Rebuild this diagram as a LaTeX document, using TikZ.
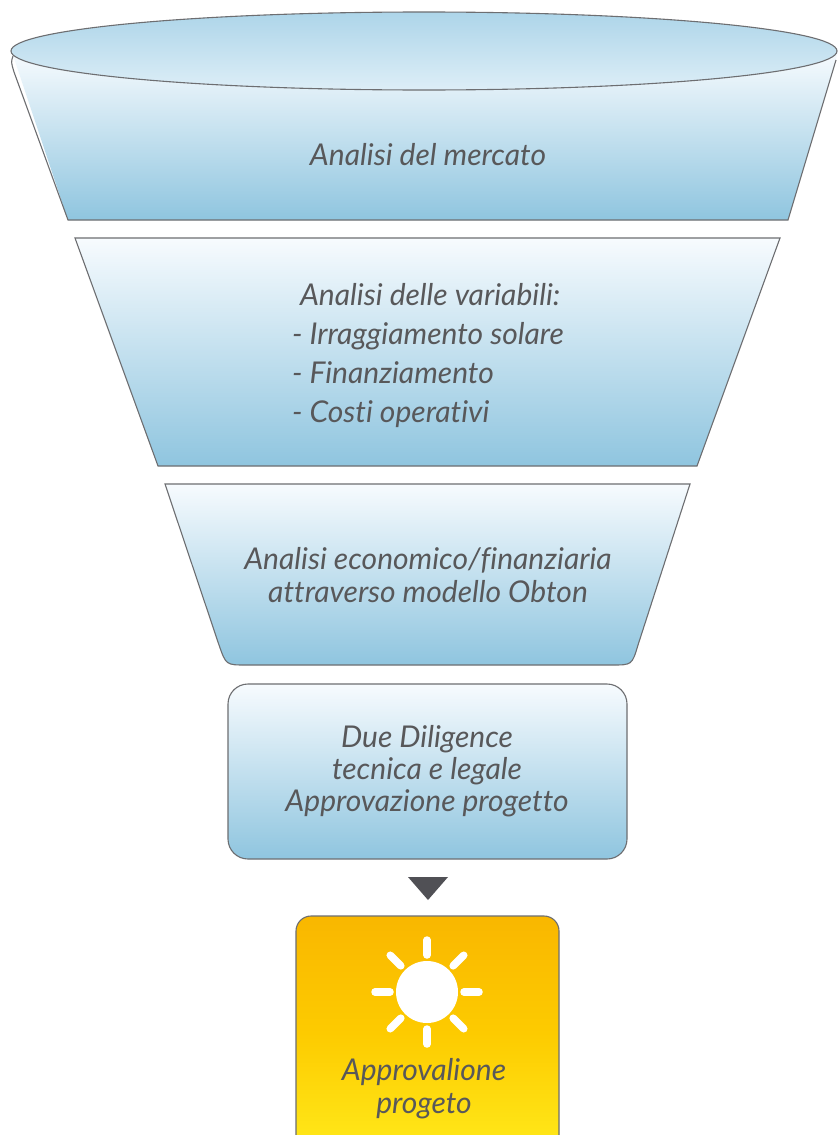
\documentclass[tikz,border=0pt]{standalone}
\usepackage{fontspec}
\usetikzlibrary{calc}
\newfontfamily\hand{Lato}[Ligatures=NoCommon]
\definecolor{txt}{HTML}{58585A}
\definecolor{edge}{HTML}{6D6E71}
\definecolor{bluetop}{HTML}{F7FBFE}
\definecolor{bluebot}{HTML}{8FC5DF}
\definecolor{elltop}{HTML}{ADD5E9}
\definecolor{ellbot}{HTML}{DDEEF7}
\definecolor{yeltop}{HTML}{F9B700}
\definecolor{yelmid}{HTML}{FDCB00}
\definecolor{yelbot}{HTML}{FFE91A}
\definecolor{arrowgray}{HTML}{505055}
\begin{document}
\begin{tikzpicture}[x=1pt,y=-1pt,
  stagebox/.style={draw=edge,line width=1.1pt,top color=bluetop,bottom color=bluebot},
  label/.style={text=txt,inner sep=0pt,align=center,font={\hand\itshape\fontsize{30}{33}\selectfont}},
  ray/.style={draw=white,line width=7.5pt,line cap=round}]
\useasboundingbox (0,0) rectangle (838,1135);
\fill[white] (0,0) rectangle (838,1135);
% stage 1: funnel mouth
\path[top color=bluetop,bottom color=bluebot] (12,52) -- (68,220) -- (788,220) -- (838,52) -- cycle;
\draw[edge,line width=1.1pt] (13,56) .. controls (11,62) .. (14,72) -- (68,220) -- (788,220) -- (836,60);
\draw[edge,line width=1.1pt,top color=elltop,bottom color=ellbot] (424,51) ellipse [x radius=413,y radius=39];
\node[label] (s1) at (428,155) {Analisi del mercato};
% stage 2
\draw[stagebox] (75,238) -- (780,238) -- (697,466) -- (158,466) -- cycle;
\node[label,align=left,font={\hand\itshape\fontsize{30}{39}\selectfont}] (s2) at (428,356)
  {\hspace{8pt}Analisi delle variabili:\\- Irraggiamento solare\\- Finanziamento\\- Costi operativi};
% stage 3
\draw[stagebox] (165,484) -- (690,484) -- (638,645) .. controls (632,665) .. (612,665)
  -- (246,665) .. controls (226,665) .. (219,645) -- cycle;
\node[label] (s3) at (428,575) {Analisi economico/finanziaria\\attraverso modello Obton};
% stage 4
\draw[stagebox,rounded corners=20pt] (228,684) rectangle (627,859);
\node[label,font={\hand\itshape\fontsize{30}{32}\selectfont}] (s4) at (427,771) {Due Diligence\\tecnica e legale\\Approvazione progetto};
% arrow
\fill[arrowgray] (408,877) -- (448,877) -- (428,900) -- cycle;
% result
\draw[draw=edge,line width=1.1pt,top color=yeltop,bottom color=yelbot,middle color=yelmid,rounded corners=15pt] (296,916) rectangle (559,1150);
\coordinate (sun) at (427,992);
\fill[white] (sun) circle [radius=31];
\foreach \a in {0,45,...,315}
  \draw[ray] ($(sun)+(\a:37)$) -- ($(sun)+(\a:52)$);
\node[label,font={\hand\itshape\fontsize{30}{33}\selectfont}] (s5) at (424,1089) {Approvalione\\progeto};
\end{tikzpicture}
\end{document}
